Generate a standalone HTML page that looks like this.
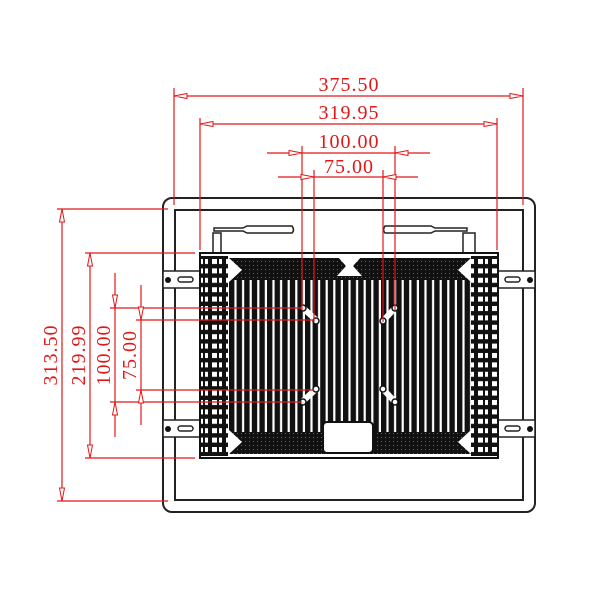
<!DOCTYPE html>
<html><head><meta charset="utf-8"><style>body{margin:0;background:#fff}svg{display:block}</style></head><body>
<svg width="600" height="600" viewBox="0 0 600 600" xmlns="http://www.w3.org/2000/svg">
<defs>
<pattern id="fins" x="229" y="0" width="7.6" height="10" patternUnits="userSpaceOnUse">
<rect x="0" y="0" width="5.4" height="10" fill="#111"/>
</pattern>
<pattern id="chev" x="0" y="0" width="4" height="4" patternUnits="userSpaceOnUse">
<rect width="4" height="4" fill="#111"/><rect x="1" y="1" width="1" height="1" fill="#666"/>
</pattern>
<pattern id="side" x="0" y="257" width="14" height="9.4" patternUnits="userSpaceOnUse">
<rect width="14" height="9.4" fill="#111"/><rect x="2" y="2" width="5" height="5" fill="#fff"/><rect x="9" y="2" width="3" height="5" fill="#fff"/>
</pattern>
</defs>
<rect x="163" y="198" width="372" height="314" rx="9" fill="none" stroke="#222" stroke-width="2"/>
<rect x="175" y="210" width="348" height="290" fill="none" stroke="#222" stroke-width="2"/>
<path d="M213 252 V233 H221 V252" fill="#fff" stroke="#222" stroke-width="1.5"/>
<path d="M214 228 H243 L247 226 H292 Q295 230 292 233 H247 L243 231 H214 Z" fill="#fff" stroke="#222" stroke-width="1.5"/>
<path d="M475 252 V233 H463 V252" fill="#fff" stroke="#222" stroke-width="1.5"/>
<path d="M467 228 H435 L431 226 H385 Q382 230 385 233 H431 L435 231 H467 Z" fill="#fff" stroke="#222" stroke-width="1.5"/>
<g fill="#fff" stroke="#222" stroke-width="1.5">
<rect x="163" y="271" width="38" height="17"/><rect x="163" y="420" width="38" height="17"/>
<rect x="497" y="271" width="38" height="17"/><rect x="497" y="420" width="38" height="17"/>
<rect x="178" y="277" width="15" height="5" rx="2.5"/><rect x="178" y="426" width="15" height="5" rx="2.5"/>
<rect x="505" y="277" width="15" height="5" rx="2.5"/><rect x="505" y="426" width="15" height="5" rx="2.5"/>
</g>
<g fill="#111"><circle cx="168" cy="280" r="3"/><circle cx="168" cy="429" r="3"/><circle cx="530" cy="280" r="3"/><circle cx="530" cy="429" r="3"/></g>
<rect x="200" y="253" width="298" height="205" fill="#fff" stroke="#111" stroke-width="2"/>
<rect x="201" y="256" width="27" height="200" fill="url(#side)"/>
<rect x="471" y="256" width="27" height="200" fill="url(#side)"/>
<rect x="229" y="258" width="242" height="196" fill="url(#fins)"/>
<rect x="229" y="258" width="242" height="22" fill="url(#chev)"/>
<rect x="229" y="432" width="242" height="22" fill="url(#chev)"/>
<path d="M229 258 L242 270 L229 282 Z M471 258 L458 270 L471 282 Z M229 430 L242 442 L229 454 Z M471 430 L458 442 L471 454 Z" fill="#fff"/>
<path d="M337 256 H362 L353 266 L362 276 H337 L346 266 Z" fill="#fff"/>
<rect x="323" y="422" width="50" height="31" rx="4" fill="#fff" stroke="#111" stroke-width="2"/>
<g fill="#fff" stroke="#111" stroke-width="1.5">
<path d="M303 308 L316 320" stroke-width="6" stroke="#fff"/><circle cx="303" cy="308" r="3"/><circle cx="316" cy="321" r="3"/>
<path d="M303 401 L316 389" stroke-width="6" stroke="#fff"/><circle cx="303" cy="402" r="3"/><circle cx="316" cy="389" r="3"/>
<path d="M383 321 L395 308" stroke-width="6" stroke="#fff"/><circle cx="383" cy="321" r="3"/><circle cx="395" cy="308" r="3"/>
<path d="M383 389 L395 402" stroke-width="6" stroke="#fff"/><circle cx="383" cy="389" r="3"/><circle cx="395" cy="402" r="3"/>
</g>
<g stroke="#e01818" stroke-width="1.2" fill="none">
<path d="M174 88 V205 M523 88 V205 M174 96 H523"/>
<path d="M200 118 V250 M497 118 V250 M200 124 H497"/>
<path d="M302 146 V310 M395 146 V310 M267 153 H430"/>
<path d="M314 170 V322 M383 170 V322 M278 177 H418"/>
<path d="M57 209 H168 M57 501 H168 M62 209 V501"/>
<path d="M85 253 H195 M85 458 H195 M90 253 V458"/>
<path d="M110 308 H302 M110 402 H302 M115 273 V437"/>
<path d="M136 320 H314 M136 390 H314 M141 285 V425"/>
</g>
<g fill="#fff" stroke="#e01818" stroke-width="1">
<path d="M174 96 l13 -2.5 v5 Z M523 96 l-13 -2.5 v5 Z"/>
<path d="M200 124 l13 -2.5 v5 Z M497 124 l-13 -2.5 v5 Z"/>
<path d="M302 153 l-13 -2.5 v5 Z M395 153 l13 -2.5 v5 Z"/>
<path d="M314 177 l-13 -2.5 v5 Z M383 177 l13 -2.5 v5 Z"/>
<path d="M62 209 l-2.5 13 h5 Z M62 501 l-2.5 -13 h5 Z"/>
<path d="M90 253 l-2.5 13 h5 Z M90 458 l-2.5 -13 h5 Z"/>
<path d="M115 308 l-2.5 -13 h5 Z M115 402 l-2.5 13 h5 Z"/>
<path d="M141 320 l-2.5 -13 h5 Z M141 390 l-2.5 13 h5 Z"/>
</g>
<g fill="#e01818" font-family="Liberation Serif, serif" font-size="20" text-anchor="middle" letter-spacing="1">
<text x="349" y="91">375.50</text>
<text x="349" y="119">319.95</text>
<text x="349" y="148">100.00</text>
<text x="349" y="173">75.00</text>
<text transform="translate(57,355) rotate(-90)">313.50</text>
<text transform="translate(85,355) rotate(-90)">219.99</text>
<text transform="translate(110,355) rotate(-90)">100.00</text>
<text transform="translate(136,355) rotate(-90)">75.00</text>
</g>
</svg>
</body></html>
